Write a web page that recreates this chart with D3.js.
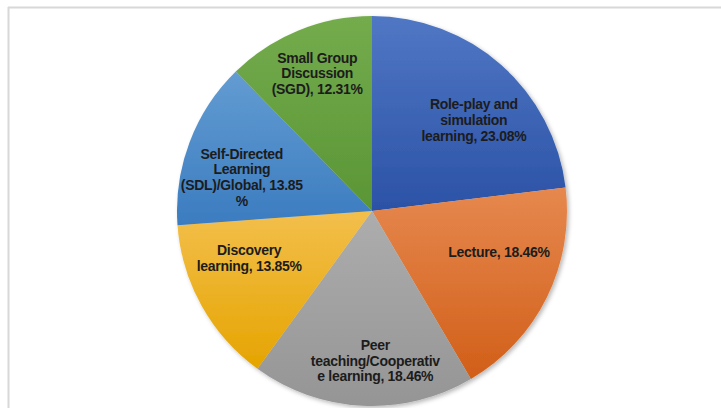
<!DOCTYPE html>
<html>
<head>
<meta charset="utf-8">
<script src="https://cdn.jsdelivr.net/npm/d3@7"></script>
<style>
  html, body { margin: 0; padding: 0; background: #fff; }
  svg { display: block; }
</style>
</head>
<body>
<svg id="chart" width="721" height="408"></svg>
<script>
// Teaching methods and their share of use (percent)
const categories = [
  "Role-play and simulation learning",
  "Lecture",
  "Peer teaching/Cooperative learning",
  "Discovery learning",
  "Self-Directed Learning (SDL)/Global",
  "Small Group Discussion (SGD)"
];
const shares = [23.08, 18.46, 18.46, 13.85, 13.85, 12.31];
// Label text as wrapped inside each slice
const labelLines = [
  ["Role-play and", "simulation", "learning, 23.08%"],
  ["Lecture, 18.46%"],
  ["Peer", "teaching/Cooperativ", "e learning, 18.46%"],
  ["Discovery", "learning, 13.85%"],
  ["Self-Directed", "Learning", "(SDL)/Global, 13.85", "%"],
  ["Small Group", "Discussion", "(SGD), 12.31%"]
];
// Fill colours: [lighter top, darker bottom]
const sliceColors = [
  ["#5077c4", "#2b52a6"],
  ["#e6884f", "#d15f18"],
  ["#adadad", "#959595"],
  ["#f3bf4c", "#e5a400"],
  ["#639cd2", "#3b7cc0"],
  ["#74ac4d", "#5a9535"]
];

const svg = d3.select("#chart");
const W = 721, H = 408;
const cx = 372, cy = 211, R = 195;

// frame lines (top and left)
svg.append("line").attr("x1", 8).attr("y1", 7.5).attr("x2", W).attr("y2", 7.5)
  .attr("stroke", "#d8d8d8").attr("stroke-width", 2);
svg.append("line").attr("x1", 8.5).attr("y1", 7).attr("x2", 8.5).attr("y2", H)
  .attr("stroke", "#d8d8d8").attr("stroke-width", 2);

const defs = svg.append("defs");
const shadow = defs.append("filter").attr("id", "pieShadow")
  .attr("x", "-10%").attr("y", "-10%").attr("width", "120%").attr("height", "120%");
shadow.append("feDropShadow").attr("dx", 2).attr("dy", 2).attr("stdDeviation", 2.2)
  .attr("flood-color", "#000").attr("flood-opacity", 0.28);

sliceColors.forEach((c, i) => {
  const g = defs.append("linearGradient").attr("id", "grad" + i)
    .attr("x1", 0).attr("y1", 0).attr("x2", 0).attr("y2", 1);
  g.append("stop").attr("offset", "0%").attr("stop-color", c[0]);
  g.append("stop").attr("offset", "100%").attr("stop-color", c[1]);
});

const pie = d3.pie().sort(null).value(d => d).startAngle(0).endAngle(2 * Math.PI);
const arcs = pie(shares);
const arc = d3.arc().innerRadius(0).outerRadius(R);
const labelArc = d3.arc().innerRadius(140).outerRadius(140);

const g = svg.append("g").attr("transform", `translate(${cx},${cy})`);

g.append("g").attr("filter", "url(#pieShadow)")
  .selectAll("path").data(arcs).join("path")
  .attr("d", arc)
  .attr("fill", (d, i) => `url(#grad${i})`);

// small offsets from the slice centroid, like the chart's best-fit placement
const nudge = [[9, 14], [1.5, -21], [10, 10], [-0.5, -21], [0.7, 16], [-2, -8]];
const lineH = 15.7;

const labels = g.append("g")
  .attr("font-family", "'Liberation Sans', Arial, sans-serif")
  .attr("font-weight", "bold")
  .attr("font-size", 14)
  .attr("fill", "#1c1c1c")
  .attr("text-anchor", "middle");

arcs.forEach((d, i) => {
  const [x, y] = labelArc.centroid(d);
  const lx = x + nudge[i][0], ly = y + nudge[i][1];
  const lines = labelLines[i];
  const t = labels.append("text")
    .attr("transform", `translate(${lx},${ly})`)
    .attr("letter-spacing", -0.3);
  lines.forEach((s, k) => {
    t.append("tspan").attr("x", 0)
      .attr("y", (k - (lines.length - 1) / 2) * lineH)
      .attr("dy", "0.35em")
      .text(s);
  });
});
</script>
</body>
</html>
